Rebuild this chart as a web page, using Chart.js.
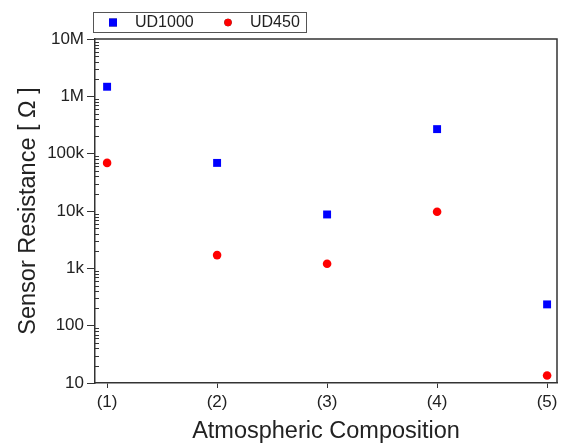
<!DOCTYPE html>
<html>
<head>
<meta charset="utf-8">
<script src="https://cdn.jsdelivr.net/npm/chart.js@4"></script>
<style>
  html, body { margin: 0; padding: 0; background: #fff; }
  #wrap { width: 563px; height: 444px; }
</style>
</head>
<body>
<div id="wrap"><canvas id="resChart"></canvas></div>
<script>
// categories on x (positions 1..5)
const categories = ["(1)", "(2)", "(3)", "(4)", "(5)"];
// resistance values (ohm)
const ud1000 = [1470000, 69000, 8700, 268000, 235];
const ud450 = [69000, 1700, 1200, 9700, 13.5];
// decade tick labels on the log axis
const yTickValues = [10, 100, 1e3, 1e4, 1e5, 1e6, 1e7];
const yTickLabels = ["10", "100", "1k", "10k", "100k", "1M", "10M"];

const fontFamily = "'Liberation Sans', Arial, sans-serif";
const textColor = "#222";
const axisColor = "#333";

function toPoints(values) {
  return values.map((v, i) => ({ x: i + 1, y: v }));
}

// frame, minor log ticks and legend box
const frameAndExtras = {
  id: "frameAndExtras",
  afterDraw(chart) {
    const ctx = chart.ctx;
    const area = chart.chartArea;
    const yScale = chart.scales.y;
    ctx.save();

    // top and right border of the plot box
    ctx.strokeStyle = axisColor;
    ctx.lineWidth = 1.5;
    ctx.beginPath();
    ctx.moveTo(area.left, area.top);
    ctx.lineTo(area.right, area.top);
    ctx.lineTo(area.right, area.bottom);
    ctx.stroke();

    // minor ticks (2..9 in each decade), pointing inward
    ctx.lineWidth = 1;
    ctx.beginPath();
    for (let d = 0; d < yTickValues.length - 1; d++) {
      for (let m = 2; m <= 9; m++) {
        const py = Math.round(yScale.getPixelForValue(yTickValues[d] * m)) + 0.5;
        ctx.moveTo(area.left, py);
        ctx.lineTo(area.left + 4, py);
      }
    }
    ctx.stroke();

    // legend
    const lx = area.left - 2;
    const ly = 12;
    ctx.strokeStyle = "#555";
    ctx.lineWidth = 1;
    ctx.strokeRect(lx + 0.5, ly + 0.5, 213, 20);
    ctx.font = "16px " + fontFamily;
    ctx.fillStyle = textColor;
    ctx.textBaseline = "middle";
    const itemX = [lx + 20, lx + 135];
    chart.data.datasets.forEach((ds, i) => {
      Chart.helpers.drawPoint(ctx, {
        pointStyle: ds.pointStyle,
        radius: ds.pointStyle === "circle" ? ds.pointRadius - 0.6 : ds.pointRadius,
        borderWidth: 0,
        rotation: 0
      }, itemX[i], ly + 10.5);
      ctx.fillStyle = ds.backgroundColor;
      ctx.fill();
      ctx.fillStyle = textColor;
      ctx.fillText(ds.label, itemX[i] + 22, ly + 11);
    });
    ctx.restore();
  }
};

let resChart = new Chart(document.getElementById("resChart"), {
  type: "scatter",
  data: {
    datasets: [
      {
        label: "UD1000",
        data: toPoints(ud1000),
        pointStyle: "rect",
        pointRadius: 5.6,
        backgroundColor: "#0000ff",
        borderColor: "#0000ff",
        borderWidth: 0
      },
      {
        label: "UD450",
        data: toPoints(ud450),
        pointStyle: "circle",
        pointRadius: 4.3,
        backgroundColor: "#ff0000",
        borderColor: "#ff0000",
        borderWidth: 0
      }
    ]
  },
  options: {
    responsive: true,
    maintainAspectRatio: false,
    animation: false,
    layout: { padding: { top: 39, right: 6, left: 0, bottom: 0 } },
    plugins: {
      legend: { display: false },
      tooltip: { enabled: false }
    },
    scales: {
      x: {
        type: "linear",
        min: 0.89,
        max: 5.09,
        afterBuildTicks: (s) => {
          s.ticks = categories.map((c, i) => ({ value: i + 1 }));
        },
        afterFit: (s) => {
          s.height = 61;
        },
        ticks: {
          callback: (v) => categories[Math.round(v) - 1],
          color: textColor,
          font: { family: fontFamily, size: 17 },
          padding: 4,
          maxRotation: 0
        },
        grid: {
          drawOnChartArea: false,
          drawTicks: true,
          tickLength: 5,
          tickColor: axisColor
        },
        border: { color: axisColor, width: 1.5 },
        title: {
          display: true,
          text: "Atmospheric Composition",
          color: textColor,
          font: { family: fontFamily, size: 23.5 },
          padding: { top: 0, bottom: -2 }
        }
      },
      y: {
        type: "logarithmic",
        min: 10,
        max: 1e7,
        afterBuildTicks: (s) => {
          s.ticks = yTickValues.map((v) => ({ value: v }));
        },
        afterFit: (s) => {
          s.width = 95;
        },
        ticks: {
          callback: (v) => yTickLabels[yTickValues.indexOf(v)],
          color: textColor,
          font: { family: fontFamily, size: 17 },
          padding: 3
        },
        grid: {
          drawOnChartArea: false,
          drawTicks: true,
          tickLength: 8,
          tickColor: axisColor
        },
        border: { color: axisColor, width: 1.5 },
        title: {
          display: true,
          text: "Sensor Resistance [ Ω ]",
          color: textColor,
          font: { family: fontFamily, size: 23.5 },
          padding: { top: 14, bottom: 0 }
        }
      }
    }
  },
  plugins: [frameAndExtras]
});
</script>
</body>
</html>
